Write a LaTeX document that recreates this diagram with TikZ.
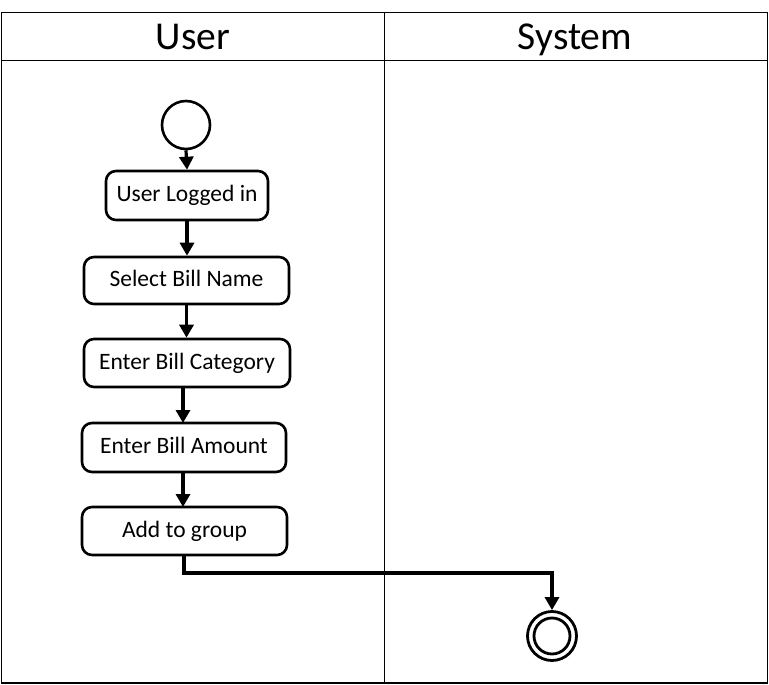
\documentclass[tikz,border=0pt]{standalone}
\usepackage{fontspec}
\setmainfont{Carlito}
\usetikzlibrary{arrows.meta}
\begin{document}
\begin{tikzpicture}[x=1pt,y=-1pt,
  act/.style={draw, line width=2.6pt, rounded corners=10pt, font=\fontsize{23.5}{26}\selectfont, inner sep=0pt, text height=16pt, text depth=4pt},
  flow/.style={line width=3.2pt, -{Triangle[length=13pt,width=14pt]}},
  lane/.style={line width=1pt},
  head/.style={font=\fontsize{39.5}{44}\selectfont, anchor=base}]
\useasboundingbox (0,0) rectangle (769,685);
% swimlane table
\draw[lane] (1,13) rectangle (767,683);
\draw[lane] (1,61) -- (767,61);
\draw[lane] (384,13) -- (384,683);
\draw[line width=2pt] (1,683) -- (767,683);
\node[head] (hu) at (193,50) {User};
\node[head] (hs) at (575,50) {System};
% start
\node[draw, circle, line width=2.6pt, minimum size=48pt, inner sep=0pt] (start) at (186,125) {};
% activities
\node[act, minimum width=162pt, minimum height=49pt] (a1) at (187,195.5) {User Logged in};
\node[act, minimum width=205pt, minimum height=47pt] (a2) at (186.5,280.5) {Select Bill Name};
\node[act, minimum width=206pt, minimum height=48pt] (a3) at (187,363) {Enter Bill Category};
\node[act, minimum width=204pt, minimum height=49pt] (a4) at (184,447.5) {Enter Bill Amount};
\node[act, minimum width=205pt, minimum height=48pt] (a5) at (184.5,531) {Add to group};
% end
\node[draw, circle, line width=2.8pt, minimum size=49pt, inner sep=0pt] (end) at (552,636) {};
\node[draw, circle, line width=2.8pt, minimum size=36pt, inner sep=0pt] (endin) at (552,636) {};
% flows
\draw[flow] (start.south) -- (a1.north);
\draw[flow] (a1.south) -- (a2.north -| a1.south);
\draw[flow] (a2.south) -- (a3.north -| a2.south);
\draw[flow] (183,387) -- (183,423);
\draw[flow] (183,472) -- (183,507);
\coordinate (c1) at (184,573);
\draw[flow] (a5.south -| c1) |- (end.north |- c1) -- (end.north);
\end{tikzpicture}
\end{document}
